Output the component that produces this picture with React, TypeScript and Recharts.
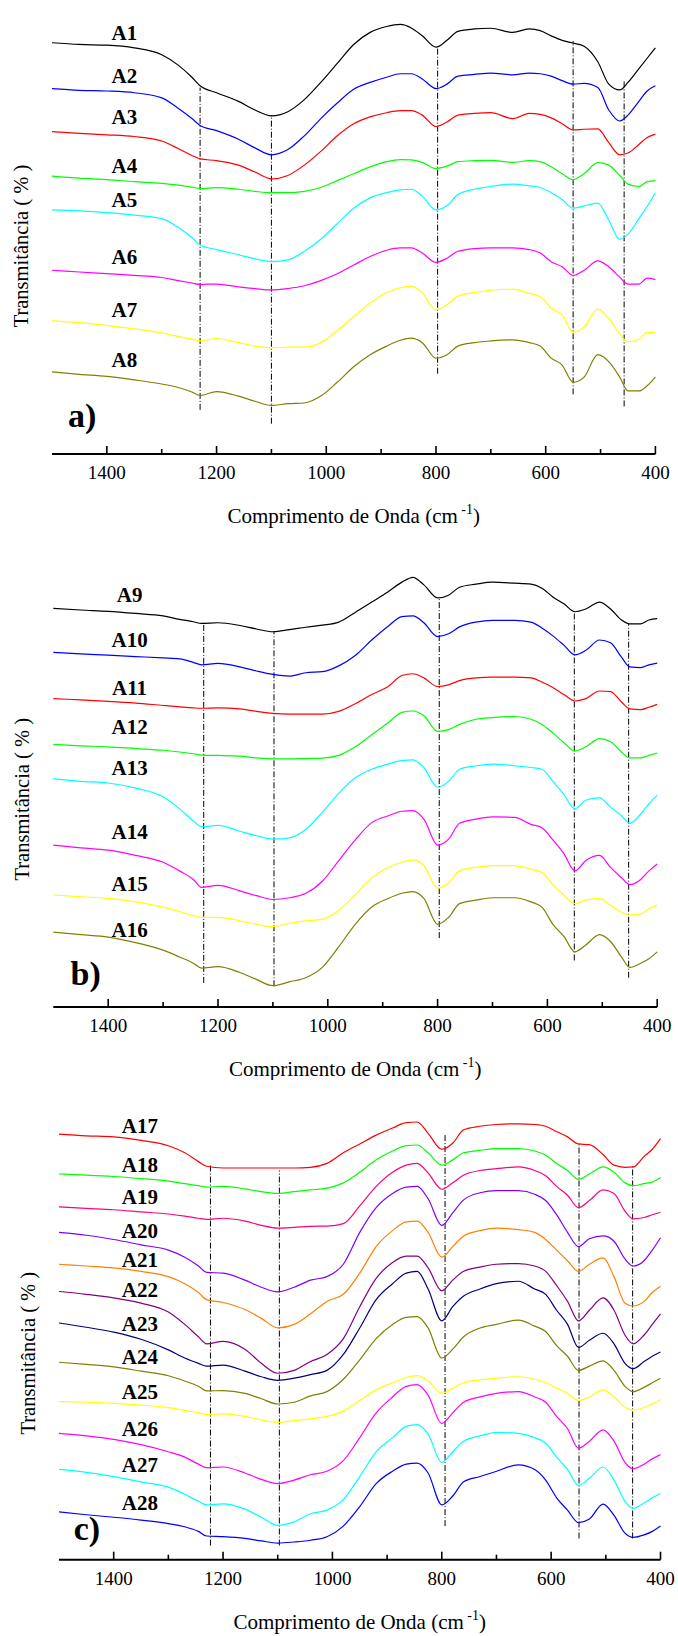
import React from 'react';
import { LineChart, Line, XAxis, YAxis, ReferenceLine, ReferenceDot, Label } from 'recharts';

// wavenumber grid (cm-1), shared by every spectrum
const WN = [1500, 1450, 1400, 1350, 1300, 1270, 1245, 1230, 1200, 1160, 1130, 1100, 1070, 1040, 1010, 980, 950, 920, 890, 865, 845, 825, 800, 780, 760, 730, 700, 660, 630, 610, 590, 570, 550, 530, 505, 485, 465, 450, 430, 415, 400];

// transmittance (a.u., stacked with offsets) - panel a
const A1 = [119.3, 118.8, 118.6, 117.8, 115.8, 112.8, 109.3, 106.8, 104.8, 102.3, 99.8, 98.1, 99.3, 102.8, 107.8, 113.3, 118.8, 122.3, 124, 124.6, 123.6, 121.3, 118, 120, 122.6, 123.3, 123.5, 122.3, 123.3, 122.8, 121.3, 120, 119.2, 118.3, 113.8, 107.3, 105.6, 107.8, 111.8, 114.8, 117.8];
const A2 = [106, 105.5, 105.3, 104.8, 103.3, 100.3, 97.3, 95.3, 93.8, 91.3, 88.8, 86.8, 88.3, 92.3, 97.3, 101.8, 105.8, 107.8, 109.3, 110.3, 110.3, 108.8, 106, 107.3, 109.6, 110.1, 110.5, 110, 110.5, 110.3, 109.6, 108.3, 107.3, 107.5, 106.3, 99.8, 96.6, 98.3, 102.3, 105.3, 106.8];
const A3 = [93.5, 93, 92.6, 92.1, 90.8, 88.6, 86.6, 85.6, 85.1, 83.8, 81.8, 79.8, 80.8, 83.8, 87.8, 92.3, 95.8, 97.8, 99, 99.6, 99.6, 98.3, 95, 96.3, 98.3, 98.8, 99, 97.3, 98.8, 98.5, 97.5, 95.8, 94, 94.2, 94.3, 90.3, 86.8, 87.3, 89.8, 91.8, 92.8];
const A4 = [80.6, 80, 79.6, 79, 78.5, 78, 77.4, 77, 77.3, 76.8, 76.2, 75.8, 75.8, 76.2, 77.3, 79.3, 81.3, 83.3, 84.8, 85.4, 85.3, 84.6, 82.8, 83.5, 84.8, 85.1, 85.2, 84.6, 85.1, 84.8, 83.3, 81.3, 79.6, 81.3, 84.5, 83.8, 80.8, 78.3, 77.6, 79, 79.3];
const A5 = [70.8, 70.5, 70, 69.3, 68.3, 65.8, 62.8, 60.6, 59.3, 57.8, 56.6, 55.8, 56.3, 58.8, 62.3, 66.8, 71.3, 74.3, 75.8, 76.6, 76.8, 74.8, 70.8, 72, 75.3, 76.8, 77.6, 78.3, 77.8, 77.3, 75.8, 73.8, 71.3, 72, 72.8, 67.8, 62.3, 63.8, 68.3, 71.8, 75.8];
const A6 = [53.3, 52.8, 52.3, 51.8, 51.2, 50.3, 49.6, 49.2, 49.3, 48.5, 48, 47.6, 48, 48.8, 50.3, 52.3, 54.8, 57.3, 59.1, 59.8, 59.8, 58.3, 55.6, 56.8, 58.8, 59.6, 59.8, 59.8, 59.3, 58.3, 55.8, 54.3, 51.8, 53.3, 56, 54.3, 51.3, 49.3, 49.3, 51, 50.6];
const A7 = [38.6, 38.1, 37.3, 36.3, 35.1, 34.1, 33.3, 32.8, 33.5, 32.3, 31.3, 30.8, 31, 31, 32.3, 35.8, 39.8, 43.8, 46.8, 48.2, 48.6, 46.8, 41.8, 43.3, 45.8, 46.8, 47.5, 47.8, 46.6, 45.6, 42.3, 40.3, 35.3, 36.8, 42, 39.3, 34.8, 32.5, 33.3, 35.3, 35.3];
const A8 = [23.8, 23.1, 22.5, 21.5, 20.3, 19.3, 18, 17, 18.1, 16.8, 15.3, 14.1, 14.6, 14.8, 16.8, 20.8, 25.3, 28.8, 31.3, 33, 33.6, 32.3, 27.8, 28.8, 31.3, 32.3, 32.8, 33.1, 32.3, 31.3, 27.8, 25.8, 20.8, 22.3, 28.8, 26.8, 22.3, 18.3, 18.3, 19.8, 22.3];

// panel b
const A9 = [115.7, 115.2, 114.8, 114.2, 113.5, 112.5, 111.8, 111.3, 111.5, 110.7, 109.7, 108.9, 109.5, 110.2, 110.8, 111.7, 114.5, 117.5, 120.5, 123.3, 124.7, 122.5, 118.7, 119.5, 121.8, 122.7, 123.3, 123, 122.7, 121.5, 119, 117, 114.7, 115.5, 117.5, 115.5, 112.3, 111.2, 111.2, 112.3, 112.7];
const A10 = [102.9, 102.5, 102.1, 101.7, 101.3, 101, 100, 99.3, 99.7, 98.7, 97.5, 96.5, 96, 97, 97.3, 99, 102, 106.5, 110.5, 113.3, 113.5, 111.5, 107.5, 108.3, 110.3, 111.7, 112.2, 112.2, 111.7, 110, 107.7, 105, 102.2, 103.5, 106.5, 105.7, 101.5, 98.7, 98.5, 99.3, 99.8];
const A11 = [89.5, 89.1, 88.7, 88.2, 87.5, 87.1, 86.8, 86.7, 86.8, 86.5, 85.8, 85.2, 85, 85, 85, 85.8, 88, 90.7, 93, 96.2, 96.7, 95.5, 93, 93.5, 94.7, 95.5, 95.7, 95.7, 95.5, 94.3, 92.7, 90.7, 88.8, 89.5, 91.7, 91.5, 88.5, 86.5, 86.3, 87, 87.8];
const A12 = [76.2, 75.8, 75.5, 75, 74.5, 74, 73.5, 73.1, 73, 72.8, 72.3, 72, 72, 72.1, 72.2, 73, 75.5, 79, 82.5, 85.5, 85.9, 84.5, 80, 80.5, 82, 83.5, 84, 84.3, 83.5, 82, 79.5, 76.7, 74.3, 75.5, 77.9, 77, 74, 72.3, 72.3, 73, 73.7];
const A13 = [66.3, 65.5, 65, 63.5, 61, 57.5, 54, 52.3, 52.7, 51, 49.7, 48.7, 49.1, 51.5, 56.5, 62, 66.5, 69, 70.5, 71.5, 71.7, 69.5, 63.7, 65.5, 69, 70, 70.5, 70, 69.5, 69, 65.5, 61.7, 57.5, 60, 60.7, 58, 55.5, 53.3, 56, 59, 61.5];
const A14 = [47, 46.2, 45.5, 44, 42, 39.5, 37, 34.7, 35.3, 33.7, 32.3, 31.2, 31.7, 33, 36.5, 42.5, 48.5, 53.5, 55.5, 56.8, 57, 54.5, 47, 48.7, 53.3, 54.5, 55.2, 55, 53, 52, 48.5, 44.5, 39.5, 42.5, 44, 40.5, 37.5, 35.5, 37, 39.5, 41.5];
const A15 = [32.5, 32, 31.5, 30.5, 29, 27.7, 26.5, 26, 26, 25, 24, 23.3, 24.3, 25, 25.5, 28, 32.5, 37.5, 40.5, 42, 42.7, 41, 34.5, 36, 39.5, 40.5, 41, 41, 40, 39, 35.5, 32.5, 30, 31, 31.5, 29.5, 27.5, 26.7, 27, 28.5, 29.5];
const A16 = [21.7, 21, 20.3, 18.7, 16.5, 14.5, 12.7, 11.3, 11.7, 10, 8, 6.2, 7.3, 8.5, 11.5, 17.5, 24, 29, 31.5, 33, 33.5, 31.5, 24, 26, 30, 31, 31.7, 31.7, 30.5, 29, 24, 20.5, 16, 18, 21, 19, 14.5, 11.5, 12.7, 14, 16];

// panel c
const A17 = [120.3, 119.8, 119.5, 118.5, 117, 115, 112.5, 111.2, 110.7, 110.7, 110.7, 110.7, 110.7, 110.9, 112, 115, 117.5, 120, 122, 123.5, 123.7, 120.5, 116, 117.7, 121.5, 122.5, 123, 123.2, 123, 122.5, 121, 119.5, 117.5, 117.3, 114.5, 111.5, 110.9, 111, 114, 116, 119];
const A18 = [109, 108.7, 108.3, 107.7, 107, 106.3, 105.7, 105.3, 105.5, 104.8, 104, 103.5, 104, 104.5, 105, 106.5, 109.5, 113, 115.5, 117, 117.2, 115, 111.5, 113, 115, 115.7, 116.2, 116.2, 115.5, 114.3, 112, 110, 107.5, 109, 111, 109.5, 106.5, 105.7, 106.3, 106.7, 108];
const A19 = [99.7, 99.3, 98.9, 98.3, 97.7, 97.1, 96.5, 96.2, 96.5, 95.7, 94.5, 93.7, 93.9, 94.2, 94.3, 95, 100, 105.5, 109.5, 111.5, 112, 109.3, 104.7, 106.5, 108.7, 110, 110.5, 111, 110, 108.5, 105.5, 103, 99.5, 101.5, 104.5, 103.5, 98.5, 96.3, 96.7, 97.5, 98.2];
const A20 = [92.5, 91.7, 90.5, 89, 87.5, 85.5, 83, 81.2, 81, 79, 77, 75.7, 77, 79, 80, 83.5, 92.5, 99.5, 103.5, 105.3, 105.5, 102, 94.5, 98, 101.7, 103.7, 104.3, 104.3, 103.3, 101.5, 97.5, 92.5, 88.5, 90.7, 91.5, 90, 85, 83, 84.5, 87.5, 91];
const A21 = [83.5, 83, 82.5, 81.5, 80, 78, 75.5, 73.5, 72.7, 70.7, 68.2, 65.5, 66.5, 69.5, 73, 75, 81, 88.5, 93, 95.5, 95.7, 92.5, 85.5, 88.5, 91.5, 93, 93.7, 93.3, 92.5, 90.5, 87.5, 84.5, 81.5, 83.5, 85.3, 80, 72.5, 71.7, 73, 75.5, 77.3];
const A22 = [75.8, 75, 74, 72.5, 70, 66.5, 63, 61, 61.7, 59.5, 55.5, 52.7, 53.5, 56, 58, 62.5, 71.5, 79.5, 84, 85.8, 85.8, 82.5, 76, 79, 81.5, 82.7, 83.5, 83.7, 83, 81.5, 77.5, 73, 67.5, 70.5, 74, 70.5, 63.5, 61, 63.5, 66.5, 69.5];
const A23 = [66.9, 65.7, 64.3, 62.3, 59.3, 57, 55.5, 54.7, 55, 53.3, 51.7, 50.7, 51.3, 52.3, 53.5, 58, 65.5, 73.5, 78, 81, 81.5, 76.5, 67.5, 71.5, 74.5, 76.5, 78, 78.7, 76.5, 75, 70.5, 66.5, 60, 62, 64, 61, 55.5, 54, 56, 57.5, 58.7];
const A24 = [55.8, 55.2, 54.5, 53.3, 52, 50.5, 49, 47.7, 47.8, 47, 45.5, 44, 44.5, 46.3, 47.5, 51, 56.5, 62.5, 66.5, 68.5, 68.7, 65.5, 57, 59.5, 63, 65.5, 66.5, 67.7, 66, 64.5, 60.5, 57.5, 53.5, 54.7, 56.2, 53.5, 49, 47.5, 48.7, 50, 51.3];
const A25 = [44.7, 44.5, 44.2, 43.7, 43, 42.2, 41.5, 41, 41.2, 40.5, 39.5, 38.8, 39.3, 39.8, 40.5, 42, 45, 48, 50, 51.5, 52, 50.5, 47, 48.5, 50, 50.8, 51.3, 51.7, 51, 50, 48.5, 47, 45, 46, 48, 46, 43, 42.3, 43, 44, 45.3];
const A26 = [35.7, 35, 34, 32.5, 30.5, 29, 27, 26, 26.2, 24.5, 22.7, 21.5, 22.5, 24, 25, 28, 34.5, 41.5, 46, 49, 49.5, 46.5, 38.5, 41.5, 44.5, 46, 47, 47.5, 46, 44.5, 40.5, 37, 31.5, 33.5, 36.7, 33.5, 27.5, 25.7, 27, 28.5, 29.7];
const A27 = [25.5, 24.7, 23.5, 22, 20.5, 18.5, 16.5, 15.5, 15.8, 14.3, 12, 9.7, 10.7, 13, 14, 17, 23.5, 30.5, 34.5, 37.7, 38.2, 35.5, 27.5, 30.5, 33.5, 35, 36, 35.7, 34.5, 33, 29, 25.5, 21, 23, 26.2, 22.5, 16.5, 14.5, 16, 17.5, 18.7];
const A28 = [13.5, 12.7, 12, 11.2, 10.2, 9.3, 8, 6.7, 6.5, 6, 5.3, 4.7, 5, 5.5, 6.5, 9.5, 15, 21.5, 25, 27, 27.3, 24.5, 15.5, 18, 22, 23.5, 25, 26.8, 25.5, 22.5, 17.5, 14, 10.5, 11.5, 15.7, 12.5, 7.5, 6.3, 7, 8, 9.5];

const SERIES: Record<string, number[]> = {
  A1, A2, A3, A4, A5, A6, A7, A8, A9, A10, A11, A12, A13, A14, A15, A16,
  A17, A18, A19, A20, A21, A22, A23, A24, A25, A26, A27, A28,
};

// x ticks
const X_TICKS = [1400, 1300, 1200, 1100, 1000, 900, 800, 700, 600, 500, 400];
const X_LABELED = [1400, 1200, 1000, 800, 600, 400];

// band positions marked with dash-dot lines: [wavenumber, from, to]
const BANDS_A = [[1230, 12.8, 106.3], [1100, 8.8, 98.3], [797, 23.3, 117.8], [550, 17.3, 119.8], [457, 13.8, 108.3]];
const BANDS_B = [[1226, 7, 111.5], [1098, 6, 109], [797, 20, 118.7], [551, 13.5, 114.7], [452, 8.5, 111.2]];
const BANDS_C = [[1223, 4, 112], [1097, 4, 110], [794, 9.5, 120.5], [549, 6, 117.5], [451, 6, 111.7]];

const SERIF = "'Liberation Serif', 'Times New Roman', Times, serif";
const serifStyle = { fontFamily: SERIF };

const panels = [
  {
    tag: 'a)', tagAt: [1445, 10.8], top: 0, height: 540, yMax: 129,
    margin: { top: 9.3, left: 52, right: 22.6, bottom: 56 },
    names: ['A1', 'A2', 'A3', 'A4', 'A5', 'A6', 'A7', 'A8'],
    colors: ['#000000', '#0000FF', '#FF0000', '#00FF00', '#00FFFF', '#FF00FF', '#FFFF00', '#808000'],
    labelWn: 1368,
    labelY: [122.3, 109.6, 97.8, 83.5, 73.8, 57.3, 41.8, 27.3],
    bands: BANDS_A, yShift: 14.4, yTicks: false,
  },
  {
    tag: 'b)', tagAt: [1441, 9.3], top: 540, height: 540, yMax: 128.7,
    margin: { top: 23.5, left: 53.3, right: 20.8, bottom: 43 },
    names: ['A9', 'A10', 'A11', 'A12', 'A13', 'A14', 'A15', 'A16'],
    colors: ['#000000', '#0000FF', '#FF0000', '#00FF00', '#00FFFF', '#FF00FF', '#FFFF00', '#808000'],
    labelWn: 1361,
    labelY: [119.5, 106.5, 92.7, 81.2, 69.5, 50.7, 35.8, 22.5],
    bands: BANDS_B, yShift: 14, yTicks: false,
  },
  {
    tag: 'c)', tagAt: [1449, 8.5], top: 1080, height: 556, yMax: 125.2,
    margin: { top: 36.7, left: 59, right: 17.5, bottom: 46.3 },
    names: ['A17', 'A18', 'A19', 'A20', 'A21', 'A22', 'A23', 'A24', 'A25', 'A26', 'A27', 'A28'],
    colors: ['#FF0000', '#00FF00', '#FF0080', '#8000FF', '#FF8000', '#800080', '#000080', '#808000', '#FFFF00', '#FF00FF', '#00FFFF', '#0000FF'],
    labelWn: 1352,
    labelY: [122.5, 111.5, 102.5, 93, 84.8, 76.2, 66.7, 57.3, 47.5, 37, 26.7, 16.2],
    bands: BANDS_C, yShift: 15, yTicks: true,
  },
];

const XTick = (props: any) => {
  const { x, y, payload } = props;
  const major = X_LABELED.includes(payload.value);
  return (
    <g>
      <line x1={x} x2={x} y1={y} y2={y - (major ? 8 : 5)} stroke="#000" strokeWidth={1.6} />
      {major && (
        <text x={x} y={y + 25} textAnchor="middle" fontSize={19} fontFamily={SERIF} style={serifStyle} fill="#000">
          {payload.value}
        </text>
      )}
    </g>
  );
};

const YTickMark = (props: any) => {
  const { x, y } = props;
  return <line x1={x} x2={x - 3} y1={y} y2={y} stroke="#000" strokeWidth={1} />;
};

function Panel({ p }: { p: any }) {
  const data = WN.map((wn, i) => {
    const row: any = { wn };
    p.names.forEach((n: string) => { row[n] = SERIES[n][i]; });
    return row;
  });
  const yTickVals = [10, 20, 30, 40, 50, 60, 70, 80, 90, 100, 110, 120];
  const plotH = p.height - p.margin.top - p.margin.bottom - 30;
  const ty = p.margin.top + plotH / 2 + p.yShift;
  const tx = p.margin.left - 24;

  return (
    <div style={{ position: 'absolute', left: 0, top: p.top, width: 678, height: p.height }}>
      <LineChart width={678} height={p.height} data={data} margin={p.margin}>
        <XAxis
          dataKey="wn" type="number" domain={[400, 1500]} reversed
          ticks={X_TICKS} interval={0} height={30}
          tickSize={0} tickMargin={0} tickLine={false} tick={XTick}
          axisLine={{ stroke: '#000', strokeWidth: 2 }}
        >
          <Label
            content={(lp: any) => {
              const vb = lp.viewBox;
              return (
                <text x={vb.x + vb.width / 2} y={vb.y + 69} textAnchor="middle" fontSize={21} fontFamily={SERIF} style={serifStyle} fill="#000">
                  Comprimento de Onda (cm
                  <tspan dy={-9} fontSize={14}> -1</tspan>
                  <tspan dy={9}>)</tspan>
                </text>
              );
            }}
          />
        </XAxis>
        <YAxis
          type="number" domain={[0, p.yMax]} width={0}
          ticks={p.yTicks ? yTickVals : []} interval={0}
          tickSize={0} tickMargin={0} tickLine={false}
          tick={p.yTicks ? YTickMark : false}
          axisLine={{ stroke: '#000', strokeWidth: 2 }}
        />
        {p.bands.map((b: number[], i: number) => (
          <ReferenceLine
            key={`band-${i}`}
            segment={[{ x: b[0], y: b[1] }, { x: b[0], y: b[2] }]}
            stroke="#000" strokeWidth={1} strokeDasharray="6 2 1 2"
            ifOverflow="visible"
          />
        ))}
        {p.names.map((n: string, i: number) => (
          <Line
            key={n} dataKey={n} type="monotone" stroke={p.colors[i]}
            strokeWidth={1.2} dot={false} activeDot={false} isAnimationActive={false}
          />
        ))}
        {p.names.map((n: string, i: number) => (
          <ReferenceDot
            key={`lbl-${n}`} x={p.labelWn} y={p.labelY[i]} r={0} ifOverflow="visible"
            shape={(dp: any) => (
              <text x={dp.cx} y={dp.cy} dy="0.34em" textAnchor="middle" fontSize={21} fontWeight="bold" fontFamily={SERIF} style={serifStyle} fill="#000">
                {n}
              </text>
            )}
          />
        ))}
        <ReferenceDot
          x={p.tagAt[0]} y={p.tagAt[1]} r={0} ifOverflow="visible"
          shape={(dp: any) => (
            <text x={dp.cx} y={dp.cy} dy="0.3em" textAnchor="middle" fontSize={34} fontWeight="bold" fontFamily={SERIF} style={serifStyle} fill="#000">
              {p.tag}
            </text>
          )}
        />
      </LineChart>
      <svg width={50} height={p.height} style={{ position: 'absolute', left: 0, top: 0, pointerEvents: 'none' }}>
        <text
          x={tx} y={ty} transform={`rotate(-90 ${tx} ${ty})`} textAnchor="middle"
          fontSize={20.5} fontFamily={SERIF} style={serifStyle} fill="#000"
        >
          Transmitância ( % )
        </text>
      </svg>
    </div>
  );
}

export default function App() {
  return (
    <div style={{ position: 'absolute', left: 0, top: 0, width: 678, height: 1636, background: '#fff' }}>
      {panels.map((p) => (
        <Panel key={p.tag} p={p} />
      ))}
    </div>
  );
}
